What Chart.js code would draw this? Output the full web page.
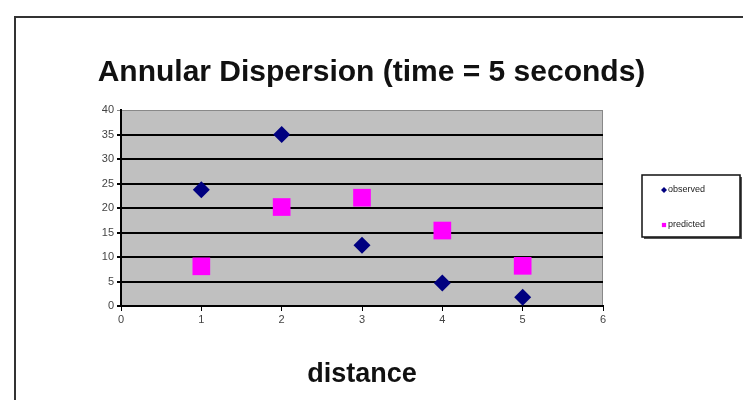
<!DOCTYPE html>
<html lang="en">
<head>
  <meta charset="UTF-8" />
  <title>Annular Dispersion</title>
  <script src="https://cdn.jsdelivr.net/npm/chart.js"></script>
  <style>
    html, body {
      margin: 0;
      padding: 0;
      background: #fff;
    }
    .wrap {
      position: relative;
      width: 743px;
      height: 400px;
    }
  </style>
</head>
<body>
  <div class="wrap">
    <canvas id="chart" width="743" height="400"></canvas>
  </div>

  <script>
    // values
    const distance = [1, 2, 3, 4, 5];
    const observed = [23.7, 35, 12.4, 4.7, 1.8];
    const predicted = [8.1, 20.2, 22.1, 15.4, 8.2];
    const seriesNames = ['observed', 'predicted'];
    const xTicks = [0, 1, 2, 3, 4, 5, 6];
    const yTicks = [0, 5, 10, 15, 20, 25, 30, 35, 40];

    const toPoints = ys => distance.map((x, i) => ({ x: x, y: ys[i] }));

    // grey plot area + outer frame, like the old spreadsheet chart
    const backdrop = {
      id: 'backdrop',
      beforeDraw(chart) {
        const ctx = chart.ctx;
        const a = chart.chartArea;
        ctx.save();
        ctx.strokeStyle = '#333';
        ctx.lineWidth = 2;
        ctx.beginPath();
        ctx.moveTo(15, 400);
        ctx.lineTo(15, 17);
        ctx.lineTo(743, 17);
        ctx.stroke();
        ctx.fillStyle = '#c0c0c0';
        ctx.fillRect(a.left, a.top, a.right - a.left, a.bottom - a.top);
        ctx.strokeStyle = '#888';
        ctx.lineWidth = 1;
        ctx.strokeRect(a.left + 0.5, a.top + 0.5, a.right - a.left - 1, a.bottom - a.top - 1);
        ctx.restore();
      }
    };

    // boxed legend on the right
    const boxLegend = {
      id: 'boxLegend',
      afterDraw(chart) {
        const ctx = chart.ctx;
        const left = 642, top = 175, w = 98, h = 62;
        ctx.save();
        ctx.fillStyle = '#555';
        ctx.fillRect(left + 2, top + 2, w, h);
        ctx.fillStyle = '#fff';
        ctx.fillRect(left, top, w, h);
        ctx.strokeStyle = '#111';
        ctx.lineWidth = 1.5;
        ctx.strokeRect(left, top, w, h);
        ctx.font = '9px Arial, "Liberation Sans", sans-serif';
        ctx.textBaseline = 'middle';
        chart.data.datasets.forEach((ds, i) => {
          const y = top + 15 + i * 35;
          ctx.fillStyle = ds.backgroundColor;
          Chart.helpers.drawPoint(ctx, { pointStyle: ds.pointStyle, radius: 3, borderWidth: 0 }, left + 22, y);
          ctx.fillStyle = '#222';
          ctx.fillText(ds.label, left + 26, y);
        });
        ctx.restore();
      }
    };

    new Chart(document.getElementById('chart').getContext('2d'), {
      type: 'scatter',
      data: {
        datasets: [
          {
            label: seriesNames[0],
            data: toPoints(observed),
            pointStyle: 'rectRot',
            pointRadius: 8.5,
            pointHoverRadius: 8.5,
            backgroundColor: '#000080',
            borderColor: '#000080',
            borderWidth: 0
          },
          {
            label: seriesNames[1],
            data: toPoints(predicted),
            pointStyle: 'rect',
            pointRadius: 12.5,
            pointHoverRadius: 12.5,
            backgroundColor: '#ff00ff',
            borderColor: '#ff00ff',
            borderWidth: 0
          }
        ]
      },
      options: {
        responsive: false,
        animation: false,
        layout: { padding: 0 },
        plugins: {
          legend: { display: false },
          tooltip: { enabled: false },
          title: {
            display: true,
            text: 'Annular Dispersion (time = 5 seconds)',
            color: '#111',
            font: { family: 'Arial, "Liberation Sans", sans-serif', size: 30, weight: 'bold' },
            padding: { top: 55, bottom: 19 }
          }
        },
        scales: {
          x: {
            type: 'linear',
            min: 0,
            max: 6,
            afterBuildTicks: s => { s.ticks = xTicks.map(v => ({ value: v })); },
            afterFit: s => { s.height = 94; },
            ticks: { color: '#444', font: { family: 'Arial', size: 11 }, padding: 2 },
            grid: { drawOnChartArea: false, drawTicks: true, tickLength: 5, color: '#000', lineWidth: 1 },
            border: { color: '#000', width: 2 },
            title: {
              display: true,
              text: 'distance',
              color: '#111',
              font: { family: 'Arial, "Liberation Sans", sans-serif', size: 27, weight: 'bold' },
              padding: { top: 0, bottom: 9 }
            }
          },
          y: {
            min: 0,
            max: 40,
            afterBuildTicks: s => { s.ticks = yTicks.map(v => ({ value: v })); },
            afterFit: s => { s.width = 121; },
            ticks: { color: '#444', font: { family: 'Arial', size: 11 }, padding: 3 },
            grid: {
              color: c => (c.tick && c.tick.value === 40 ? '#888' : '#000'),
              lineWidth: c => (c.tick && c.tick.value === 40 ? 1 : 2),
              tickLength: 4
            },
            border: { color: '#000', width: 2 }
          },
          pad: {
            type: 'linear',
            position: 'right',
            afterFit: s => { s.width = 140; },
            ticks: { display: false },
            grid: { display: false },
            border: { display: false }
          }
        }
      },
      plugins: [backdrop, boxLegend]
    });
  </script>
</body>
</html>
